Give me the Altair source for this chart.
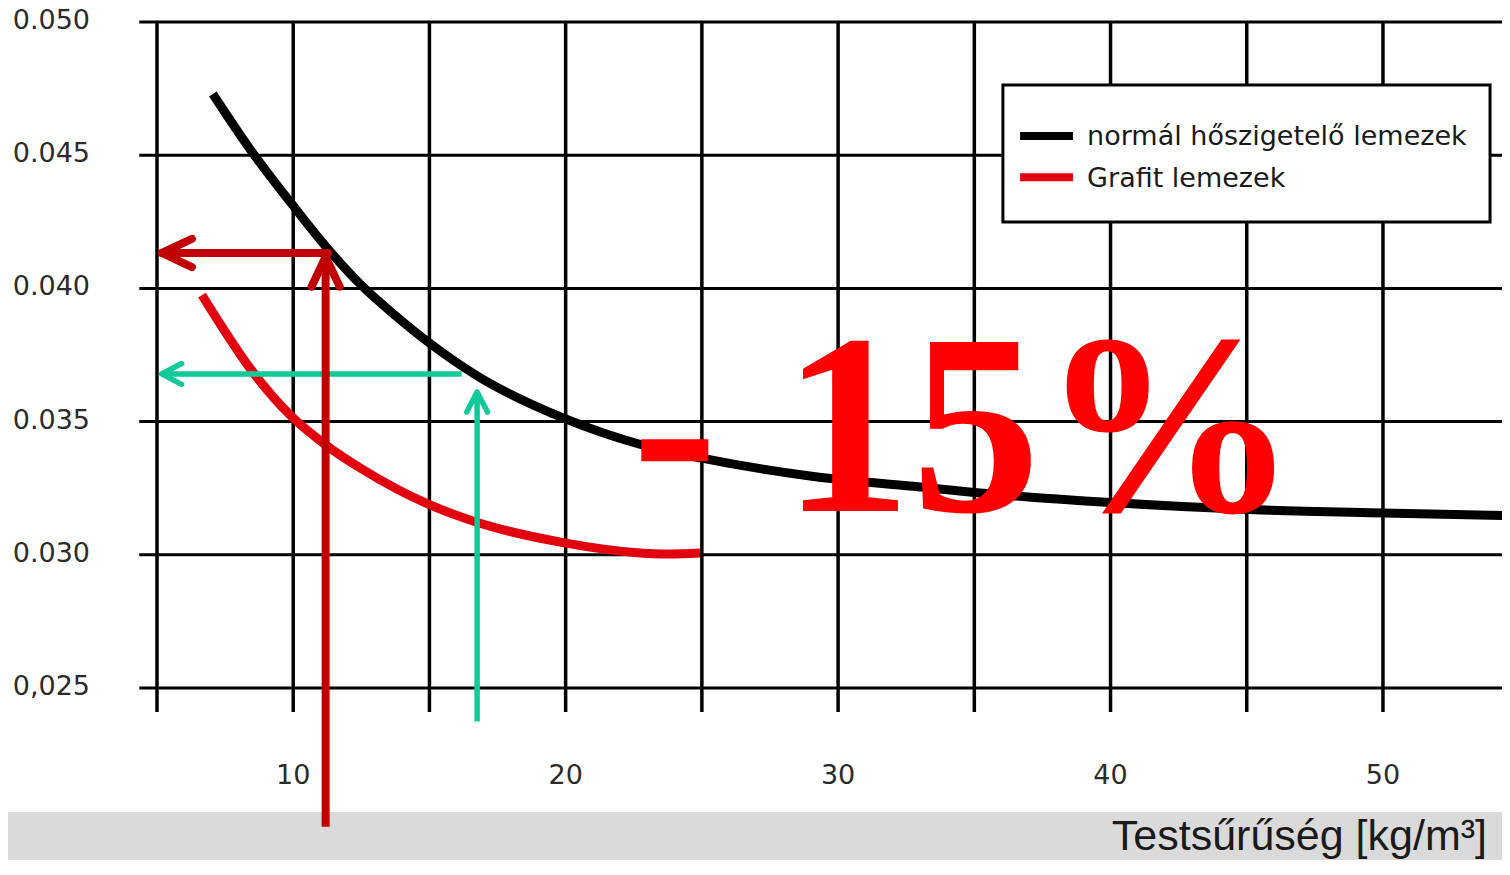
import altair as alt
import pandas as pd

# ---------------- data ----------------
density_normal = [7.05, 8.4, 10.0, 11.4, 12.45, 13.75, 15.0, 16.7, 20.0, 22.75,
                  25.0, 29.1, 32.75, 35.0, 40.0, 45.1, 50.0, 54.65]
lambda_normal = [0.04730, 0.04525, 0.04310, 0.04133, 0.04017, 0.03898, 0.03795,
                 0.03675, 0.03510, 0.03414, 0.03363, 0.03294, 0.03257, 0.03234,
                 0.03196, 0.03170, 0.03157, 0.03147]

density_grafit = [6.65, 7.39, 8.38, 9.96, 11.2, 12.52, 15.02, 16.71, 20.01, 22.51, 23.76, 24.93]
lambda_grafit = [0.03975, 0.03855, 0.03705, 0.03517, 0.03412, 0.03322, 0.03187,
                 0.03123, 0.03044, 0.03009, 0.03003, 0.03007]

x_grid = [5, 10, 15, 20, 25, 30, 35, 40, 45, 50]
y_grid = [0.025, 0.030, 0.035, 0.040, 0.045, 0.050]
y_tick_labels = ["0,025", "0.030", "0.035", "0.040", "0.045", "0.050"]
x_tick_values = [10, 20, 30, 40, 50]
x_tick_labels = ["10", "20", "30", "40", "50"]
x_title = "Testsűrűség [kg/m³]"
legend_labels = ["normál hőszigetelő lemezek", "Grafit lemezek"]
annotation = "- 15%"

# reading arrows (density -> lambda), in data units
red_h = {"x": 11.28, "x2": 5.18, "y": 0.04133}
red_v = {"x": 11.19, "y": 0.01979, "y2": 0.04119}
green_h = {"x": 16.18, "x2": 5.17, "y": 0.03679}
green_v = {"x": 16.75, "y": 0.02374, "y2": 0.03611}

# ---------------- scales ----------------
X_DOMAIN = [-0.469, 54.369]
Y_DOMAIN = [0.018543, 0.050526]
xs = alt.Scale(domain=X_DOMAIN, nice=False, zero=False)
ys = alt.Scale(domain=Y_DOMAIN, nice=False, zero=False)


def X(f):
    return alt.X(f, type="quantitative", scale=xs, axis=None)


def Y(f):
    return alt.Y(f, type="quantitative", scale=ys, axis=None)


def X2(f):
    return alt.X2(f)


def Y2(f):
    return alt.Y2(f)


# ---------------- frames ----------------
df_normal = pd.DataFrame({"x": density_normal, "y": lambda_normal})
df_grafit = pd.DataFrame({"x": density_grafit, "y": lambda_grafit})
df_vgrid = pd.DataFrame({"x": x_grid, "y": [0.024099] * len(x_grid), "y2": [0.050] * len(x_grid)})
df_hgrid = pd.DataFrame({"y": y_grid, "x": [4.35] * len(y_grid), "x2": [X_DOMAIN[1]] * len(y_grid)})
df_ylab = pd.DataFrame({"y": y_grid, "label": y_tick_labels, "x": [2.541] * len(y_grid)})
df_xlab = pd.DataFrame({"x": x_tick_values, "label": x_tick_labels, "y": [0.021396] * len(x_tick_values)})
df_band = pd.DataFrame({"x": [X_DOMAIN[0]], "x2": [X_DOMAIN[1]], "y": [Y_DOMAIN[0]], "y2": [0.020345]})
df_title = pd.DataFrame({"x": [53.818], "y": [0.018918], "label": [x_title]})
df_box = pd.DataFrame({"x": [36.05], "x2": [53.93], "y": [0.042492], "y2": [0.047635]})
df_leg_line = pd.DataFrame({"x": [36.68, 36.68], "x2": [38.62, 38.62], "y": [0.045721, 0.044170],
                            "series": legend_labels})
df_leg_text = pd.DataFrame({"x": [39.14, 39.14], "y": [0.045383, 0.043818], "label": legend_labels})
df_ann = pd.DataFrame({"x": [22.43], "y": [0.031644], "label": [annotation]})

df_red_h = pd.DataFrame([red_h])
df_red_v = pd.DataFrame([red_v])
df_green_h = pd.DataFrame([green_h])
df_green_v = pd.DataFrame([green_v])
df_red_htip = pd.DataFrame({"x": [red_h["x2"]], "y": [red_h["y"]]})
df_red_vtip = pd.DataFrame({"x": [red_v["x"]], "y": [red_v["y2"]]})
df_green_htip = pd.DataFrame({"x": [green_h["x2"]], "y": [green_h["y"]]})
df_green_vtip = pd.DataFrame({"x": [green_v["x"]], "y": [green_v["y2"]]})

BLACK = "#000000"
RED_LINE = "#e2000f"
DARK_RED = "#c00000"
GREEN = "#12c999"
TXT = "#2b2b2b"
LABEL_FONT = "DejaVu Sans"

# ---------------- layers ----------------
band = alt.Chart(df_band).mark_rect(color="#dadada").encode(
    x=X("x"), x2=X2("x2"), y=Y("y"), y2=Y2("y2"))

vgrid = alt.Chart(df_vgrid).mark_rule(color=BLACK, strokeWidth=3.5).encode(
    x=X("x"), y=Y("y"), y2=Y2("y2"))

hgrid = alt.Chart(df_hgrid).mark_rule(color=BLACK, strokeWidth=3).encode(
    x=X("x"), x2=X2("x2"), y=Y("y"))

box = alt.Chart(df_box).mark_rect(fill="white", stroke=BLACK, strokeWidth=3).encode(
    x=X("x"), x2=X2("x2"), y=Y("y"), y2=Y2("y2"))

leg_lines = alt.Chart(df_leg_line).mark_rule(strokeWidth=8).encode(
    x=X("x"), x2=X2("x2"), y=Y("y"),
    color=alt.Color("series:N", scale=alt.Scale(domain=legend_labels, range=[BLACK, RED_LINE]),
                    legend=None))

leg_text = alt.Chart(df_leg_text).mark_text(
    align="left", baseline="alphabetic", font=LABEL_FONT, fontSize=27, color="#1a1a1a").encode(
    x=X("x"), y=Y("y"), text="label:N")

line_grafit = alt.Chart(df_grafit).mark_line(
    color=RED_LINE, strokeWidth=9, interpolate="monotone", strokeCap="butt").encode(
    x=X("x"), y=Y("y"))

line_normal = alt.Chart(df_normal).mark_line(
    color=BLACK, strokeWidth=9, interpolate="monotone", strokeCap="butt").encode(
    x=X("x"), y=Y("y"))

red_h_rule = alt.Chart(df_red_h).mark_rule(color=DARK_RED, strokeWidth=8, strokeCap="round").encode(
    x=X("x"), x2=X2("x2"), y=Y("y"))
red_v_rule = alt.Chart(df_red_v).mark_rule(color=DARK_RED, strokeWidth=8, strokeCap="butt").encode(
    x=X("x"), y=Y("y"), y2=Y2("y2"))
red_h_head = alt.Chart(df_red_htip).mark_point(
    shape="M1,-0.47L0,0L1,0.47", size=3600, filled=False, strokeWidth=8, color=DARK_RED,
    opacity=1, strokeCap="round", strokeJoin="round").encode(x=X("x"), y=Y("y"))
red_v_head = alt.Chart(df_red_vtip).mark_point(
    shape="M-0.47,1L0,0L0.47,1", size=3600, filled=False, strokeWidth=8, color=DARK_RED,
    opacity=1, strokeCap="round", strokeJoin="round").encode(x=X("x"), y=Y("y"))

green_h_rule = alt.Chart(df_green_h).mark_rule(color=GREEN, strokeWidth=5.5, strokeCap="butt").encode(
    x=X("x"), x2=X2("x2"), y=Y("y"))
green_v_rule = alt.Chart(df_green_v).mark_rule(color=GREEN, strokeWidth=5.5, strokeCap="butt").encode(
    x=X("x"), y=Y("y"), y2=Y2("y2"))
green_h_head = alt.Chart(df_green_htip).mark_point(
    shape="M1,-0.52L0,0L1,0.52", size=1600, filled=False, strokeWidth=5.5, color=GREEN,
    opacity=1, strokeCap="round", strokeJoin="round").encode(x=X("x"), y=Y("y"))
green_v_head = alt.Chart(df_green_vtip).mark_point(
    shape="M-0.52,1L0,0L0.52,1", size=1600, filled=False, strokeWidth=5.5, color=GREEN,
    opacity=1, strokeCap="round", strokeJoin="round").encode(x=X("x"), y=Y("y"))

ylab = alt.Chart(df_ylab).mark_text(
    align="right", baseline="alphabetic", dy=7, font=LABEL_FONT, fontSize=27, color=TXT).encode(
    x=X("x"), y=Y("y"), text="label:N")

xlab = alt.Chart(df_xlab).mark_text(
    align="center", baseline="alphabetic", font=LABEL_FONT, fontSize=27, color=TXT).encode(
    x=X("x"), y=Y("y"), text="label:N")

title = alt.Chart(df_title).mark_text(
    align="right", baseline="alphabetic", font="Liberation Sans", fontSize=43, color="#1a1a1a").encode(
    x=X("x"), y=Y("y"), text="label:N")

ann = alt.Chart(df_ann).mark_text(
    align="left", baseline="alphabetic", font="Liberation Serif", fontWeight="bold", fontSize=258,
    color="#ff0000").encode(x=X("x"), y=Y("y"), text="label:N")

chart = alt.layer(
    band, vgrid, hgrid, box, leg_lines, leg_text,
    line_grafit, line_normal,
    green_h_rule, green_v_rule, green_h_head, green_v_head,
    red_h_rule, red_v_rule, red_h_head, red_v_head,
    ylab, xlab, title, ann,
).properties(
    width=1494, height=852, padding=0,
    autosize=alt.AutoSizeParams(type="none"),
    background="white",
).configure_view(strokeWidth=0)

chart.save("out.html", embed_options={"renderer": "svg", "actions": False})
